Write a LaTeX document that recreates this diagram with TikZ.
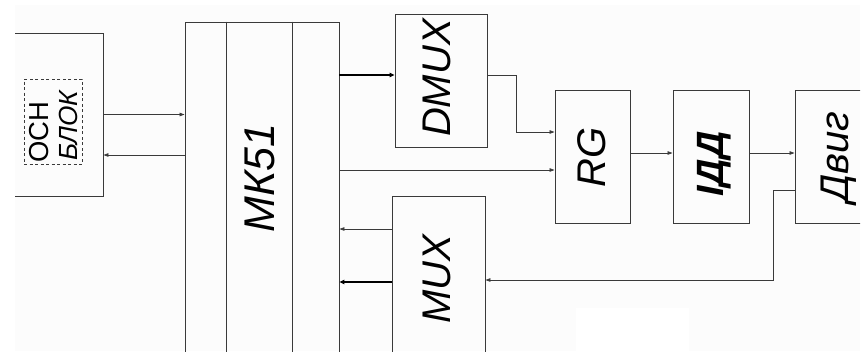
\documentclass[tikz,border=0pt]{standalone}
\usepackage{fontspec}
\usepackage{graphicx}
\setmainfont{Liberation Sans}
\usetikzlibrary{arrows.meta}
\definecolor{bgc}{HTML}{FCFCFC}
\definecolor{ln}{HTML}{3A3A3A}
\begin{document}
\begin{tikzpicture}[x=1pt,y=-1pt,
  blk/.style={draw=ln, line width=0.9pt, inner sep=0pt},
  conn/.style={draw=ln, line width=0.8pt, -{Triangle[length=5pt,width=3.5pt]}},
  thk/.style={draw=black, line width=1.8pt, -{Triangle[length=5pt,width=4.5pt]}},
  lbl/.style={rotate=90, font=\fontsize{40}{48}\selectfont\itshape, inner sep=0pt},
  sml/.style={rotate=90, anchor=base west, inner sep=0pt, font=\fontsize{24}{28}\selectfont}]
\useasboundingbox (0,0) rectangle (861,351);
\fill[white] (0,0) rectangle (861,351);
\fill[bgc] (15,5) rectangle (860,351);
\fill[white] (576,308) rectangle (689,351);
\begin{scope}
\clip (15,5) rectangle (860,351);
% blocks
\node[blk, minimum width=113pt, minimum height=163pt] (osn) at (46.5,114.5) {};
\node[blk, minimum width=154pt, minimum height=378pt] (mk) at (262,211) {};
\node[blk, minimum width=92pt, minimum height=133pt] (dmux) at (441,80.5) {};
\node[blk, minimum width=75pt, minimum height=133pt] (rg) at (592.5,156.5) {};
\node[blk, minimum width=76pt, minimum height=133pt] (idd) at (711,156.5) {};
\node[blk, minimum width=105pt, minimum height=133pt] (dvig) at (847.5,156.5) {};
\node[blk, minimum width=93pt, minimum height=204pt] (mux) at (438.5,298) {};
% inner lines of MK51
\draw[ln, line width=0.9pt] ([xshift=-36pt]mk.north) -- ([xshift=-36pt]mk.south);
\draw[ln, line width=0.9pt] ([xshift=30pt]mk.north) -- ([xshift=30pt]mk.south);
% labels
\node[draw=ln, line width=0.8pt, dash pattern=on 3pt off 2.5pt,
      minimum width=58pt, minimum height=85pt, inner sep=0pt] (tosn) at (53,121.5) {};
\node[sml] (osn1) at (48,163) {\resizebox{61pt}{!}{ОСН}};
\node[sml] (osn2) at (77,161) {\resizebox{70pt}{!}{\itshape БЛОК}};
\node[lbl, font=\fontsize{43}{48}\selectfont\itshape] (tmk) at (260,178) {МК51};
\node[lbl] (tdmux) at (437,78) {DMUX};
\node[lbl] (tmux) at (437,279) {MUX};
\node[lbl] (trg) at (591.5,157) {RG};
\node[lbl, font=\fontsize{38}{48}\selectfont\bfseries\itshape] (tidd) at (714,164) {ІДД};
\node[lbl] (tdvig) at (839,157) {Двиг};
% connectors
\draw[conn] (osn.east) -- (osn.east -| mk.west);
\coordinate (r1) at ([yshift=-40.5pt]osn.east);
\draw[conn] (r1 -| mk.west) -- (r1);
\coordinate (d1) at ([yshift=5.5pt]dmux.west);
\draw[thk] (d1 -| mk.east) -- (d1);
\coordinate (d2) at ([yshift=5.5pt]dmux.east);
\coordinate (g1) at ([yshift=24.5pt]rg.west);
\draw[conn] (d2) -- ++(29,0) |- (g1);
\coordinate (g2) at ([yshift=-13.5pt]rg.west);
\draw[conn] (g2 -| mk.east) -- (g2);
\coordinate (g3) at ([yshift=3.5pt]rg.east);
\draw[conn] (g3) -- (g3 -| idd.west);
\coordinate (i1) at ([yshift=3.5pt]idd.east);
\draw[conn] (i1) -- (i1 -| dvig.west);
\coordinate (v1) at ([yshift=-33.5pt]dvig.west);
\coordinate (m1) at ([yshift=18pt]mux.east);
\draw[conn] (v1) -- ++(-21,0) |- (m1);
\coordinate (m2) at ([yshift=69pt]mux.west);
\draw[conn] (m2) -- (m2 -| mk.east);
\coordinate (m3) at ([yshift=16pt]mux.west);
\draw[thk] (m3) -- (m3 -| mk.east);
\end{scope}
\end{tikzpicture}
\end{document}
